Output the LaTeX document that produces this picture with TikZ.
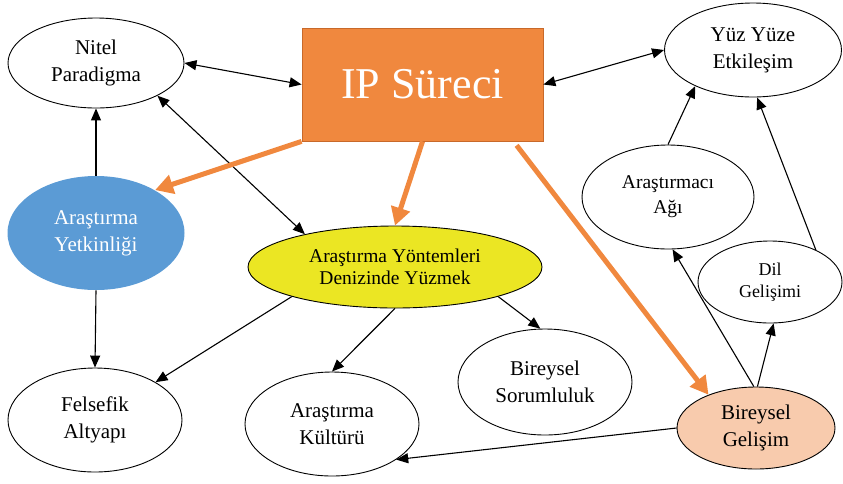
\documentclass[tikz,border=0pt]{standalone}
\usepackage{fontspec}
\setmainfont{Liberation Serif}
\usetikzlibrary{shapes.geometric,arrows.meta}
\definecolor{iporange}{HTML}{F0883E}
\definecolor{ipborder}{HTML}{C8692A}
\definecolor{skyblue}{HTML}{5B9BD5}
\definecolor{lemon}{HTML}{EBE623}
\definecolor{peach}{HTML}{F8CBAD}
\tikzset{
  bubble/.style={ellipse, draw=black, line width=0.9pt, inner sep=0pt, align=center,
    font=\fontsize{21}{27}\selectfont},
  conn/.style={line width=1.1pt, -{Triangle[length=12pt,width=10pt]}},
  biconn/.style={line width=1.1pt, {Triangle[length=12pt,width=10pt]}-{Triangle[length=12pt,width=10pt]}},
  bigarrow/.style={draw=iporange, line width=5pt, -{Triangle[length=18pt,width=19pt]}},
}
\begin{document}
\begin{tikzpicture}[x=1pt,y=-1pt]
\useasboundingbox (0,0) rectangle (843,483);
% nodes
\node[draw=ipborder, fill=iporange, line width=0.8pt, minimum width=241pt, minimum height=113pt,
      inner sep=0pt, text=white, font=\fontsize{44}{50}\selectfont] (ip) at (422.5,84.5) {IP Süreci};
\node[bubble, minimum width=176pt, minimum height=90pt] (nitel) at (96,63) {Nitel\\Paradigma};
\node[bubble, minimum width=177pt, minimum height=94pt] (yuz) at (753,50) {Yüz Yüze\\Etkileşim};
\node[bubble, draw=none, fill=skyblue, text=white, minimum width=177pt, minimum height=114pt] (yet) at (96,233) {Araştırma\\Yetkinliği};
\node[bubble, fill=lemon, minimum width=294pt, minimum height=82pt,
      font=\fontsize{19.5}{22}\selectfont] (yon) at (395,267) {Araştırma Yöntemleri\\Denizinde Yüzmek};
\node[bubble, minimum width=172pt, minimum height=104pt, font=\fontsize{19.5}{25}\selectfont] (agi) at (668,197) {Araştırmacı\\Ağı};
\node[bubble, minimum width=144pt, minimum height=82pt, font=\fontsize{18}{22}\selectfont] (dil) at (770,282) {Dil\\Gelişimi};
\node[bubble, minimum width=174pt, minimum height=106pt] (sor) at (545,382) {Bireysel\\Sorumluluk};
\node[bubble, fill=peach, minimum width=158pt, minimum height=82pt] (gel) at (756,428) {Bireysel\\Gelişim};
\node[bubble, minimum width=174pt, minimum height=104pt] (fel) at (95,420) {Felsefik\\Altyapı};
\node[bubble, minimum width=174pt, minimum height=104pt] (kul) at (332,424) {Araştırma\\Kültürü};
% black connectors
\draw[biconn] (nitel.east) -- (ip.west);
\draw[biconn] (ip.east) -- (yuz.west);
\draw[biconn] (nitel.-28) -- (yon.160);
\draw[conn] (yet.north) -- (nitel.south);
\draw[conn] (yet.south) -- (fel.north);
\draw[conn] (yon.196) -- (fel.32);
\draw[conn] (yon.south) -- (kul.north);
\draw[conn] (yon.-16) -- (sor.95);
\draw[conn] (gel.93) -- (agi.-85);
\draw[conn] (gel.88) -- (dil.-85);
\draw[conn] (agi.north) -- (yuz.212);
\draw[conn] (dil.35) -- (yuz.-85);
\draw[conn] (gel.west) -- (kul.-29);
% orange connectors
\draw[bigarrow] (ip.south west) -- (yet.36);
\draw[bigarrow] (ip.south) -- (yon.north);
\draw[bigarrow, shorten <=5pt] (ip.-32) -- (gel.145);
\end{tikzpicture}
\end{document}
